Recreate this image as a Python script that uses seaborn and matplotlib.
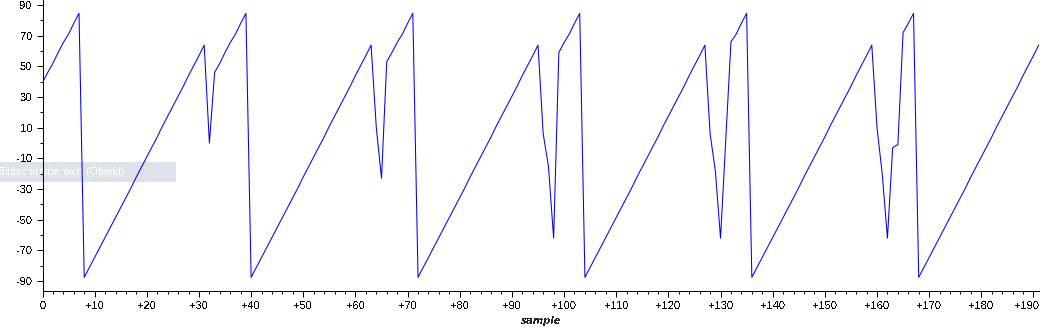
import matplotlib
matplotlib.use("Agg")
import matplotlib.pyplot as plt
import matplotlib.ticker as mticker
from matplotlib.patches import Rectangle
from matplotlib.transforms import ScaledTranslation
import numpy as np
import pandas as pd
import seaborn as sns

# ---- data ----
values = [
    39.5, 46, 52, 59, 65.5, 71, 78, 84.5,
    -87.5, -81, -74.5, -68, -61.5, -55, -48.5, -42, -35.5, -29, -22, -15.5,
    -9, -2.5, 4, 11, 17.5, 24, 30.5, 37, 44, 50.5, 57, 63.8,
    0, 46, 52, 59, 65.5, 71, 78, 84.5,
    -87.5, -81, -74.5, -68, -61.5, -55, -48.5, -42, -35.5, -29, -22, -15.5,
    -9, -2.5, 4, 11, 17.5, 24, 30.5, 37, 44, 50.5, 57, 63.8,
    10, -23, 53, 59, 65.5, 71, 78, 84.5,
    -87.5, -81, -74.5, -68, -61.5, -55, -48.5, -42, -35.5, -29, -22, -15.5,
    -9, -2.5, 4, 11, 17.5, 24, 30.5, 37, 44, 50.5, 57, 63.8,
    6, -15, -62, 59, 65.5, 71, 78, 84.5,
    -87.5, -81, -74.5, -68, -61.5, -55, -48.5, -42, -35.5, -29, -22, -15.5,
    -9, -2.5, 4, 11, 17.5, 24, 30.5, 37, 44, 50.5, 57, 63.8,
    6, -18, -62, 2, 66, 71, 78, 84.5,
    -87.5, -81, -74.5, -68, -61.5, -55, -48.5, -42, -35.5, -29, -22, -15.5,
    -9, -2.5, 4, 11, 17.5, 24, 30.5, 37, 44, 50.5, 57, 63.8,
    10, -20, -62, -3, -1, 72, 78, 84.5,
    -87.5, -81, -74.5, -68, -61.5, -55, -48.5, -42, -35.5, -29, -22, -15.5,
    -9, -2.5, 4, 11, 17.5, 24, 30.5, 37, 44, 50.5, 57, 63.8,
]
samples = list(range(len(values)))

x_ticks = [0, 10, 20, 30, 40, 50, 60, 70, 80, 90, 100, 110, 120, 130, 140,
           150, 160, 170, 180, 190]
x_tick_labels = ["0", "+10", "+20", "+30", "+40", "+50", "+60", "+70", "+80",
                 "+90", "+100", "+110", "+120", "+130", "+140", "+150",
                 "+160", "+170", "+180", "+190"]
y_ticks = [-90, -70, -50, -30, -10, 10, 30, 50, 70, 90]
y_tick_labels = ["-90", "-70", "-50", "-30", "-10", "10", "30", "50", "70", "90"]
x_label = "sample"
overlay_text = "Bildschirmbereich (Objekt)"

df = pd.DataFrame({"sample": samples, "value": values})

# ---- style ----
sns.set_style("white")
plt.rcParams["font.family"] = ["Liberation Sans", "DejaVu Sans"]
plt.rcParams["text.antialiased"] = False

W, H = 1040, 327
fig = plt.figure(figsize=(W / 100, H / 100), dpi=100, facecolor="white")

left_px, bottom_px = 42.5, 291
ax = fig.add_axes([left_px / W, (H - bottom_px) / H, (W - left_px) / W, bottom_px / H])
ax.set_facecolor("none")

# tooltip-like overlay box (behind the axes content)
fig.patches.append(Rectangle((0, (H - 182.3) / H), 176 / W, 20.6 / H,
                             transform=fig.transFigure, facecolor="#DDE1EA",
                             edgecolor="none", zorder=-5))
fig.text(-2 / W, (H - 172) / H, overlay_text, color="white", fontsize=7.7,
         ha="left", va="center", zorder=-4)

sns.lineplot(data=df, x="sample", y="value", ax=ax, color="#0000FF",
             linewidth=0.75, antialiased=True)

ax.set_xlim(0, 191.25)
ax.set_ylim(-96.4, 93.2)

ax.xaxis.set_major_locator(mticker.FixedLocator(x_ticks))
ax.xaxis.set_major_formatter(mticker.FixedFormatter(x_tick_labels))
ax.xaxis.set_minor_locator(mticker.MultipleLocator(2))
ax.yaxis.set_major_locator(mticker.FixedLocator(y_ticks))
ax.yaxis.set_major_formatter(mticker.FixedFormatter(y_tick_labels))
ax.yaxis.set_minor_locator(mticker.FixedLocator([-80, -60, -40, -20, 0, 20, 40, 60, 80]))

ax.tick_params(which="major", direction="out", length=4.4, width=0.72,
               color="black", labelsize=8, labelcolor="black", pad=3,
               bottom=True, left=True)
ax.tick_params(which="minor", direction="out", length=2.2, width=0.72,
               color="black", bottom=True, left=True)

for side in ("top", "right"):
    ax.spines[side].set_visible(False)
for side in ("left", "bottom"):
    ax.spines[side].set_visible(True)
    ax.spines[side].set_color("black")
    ax.spines[side].set_linewidth(0.72)

ax.set_ylabel("")
ax.set_xlabel(x_label, fontsize=7.2, fontweight="bold", fontstyle="italic",
              family=["DejaVu Sans"])
ax.xaxis.label.set_va("center")
ax.xaxis.set_label_coords(0.5, -30 / bottom_px)

# the last tick label is pulled in so it stays inside the picture, as in the reference
last = ax.xaxis.get_major_ticks()[-1].label1
last.set_ha("right")
last.set_transform(last.get_transform() + ScaledTranslation(5.5 / 100, 0, fig.dpi_scale_trans))

fig.savefig("out.png", dpi=100, facecolor="white")
